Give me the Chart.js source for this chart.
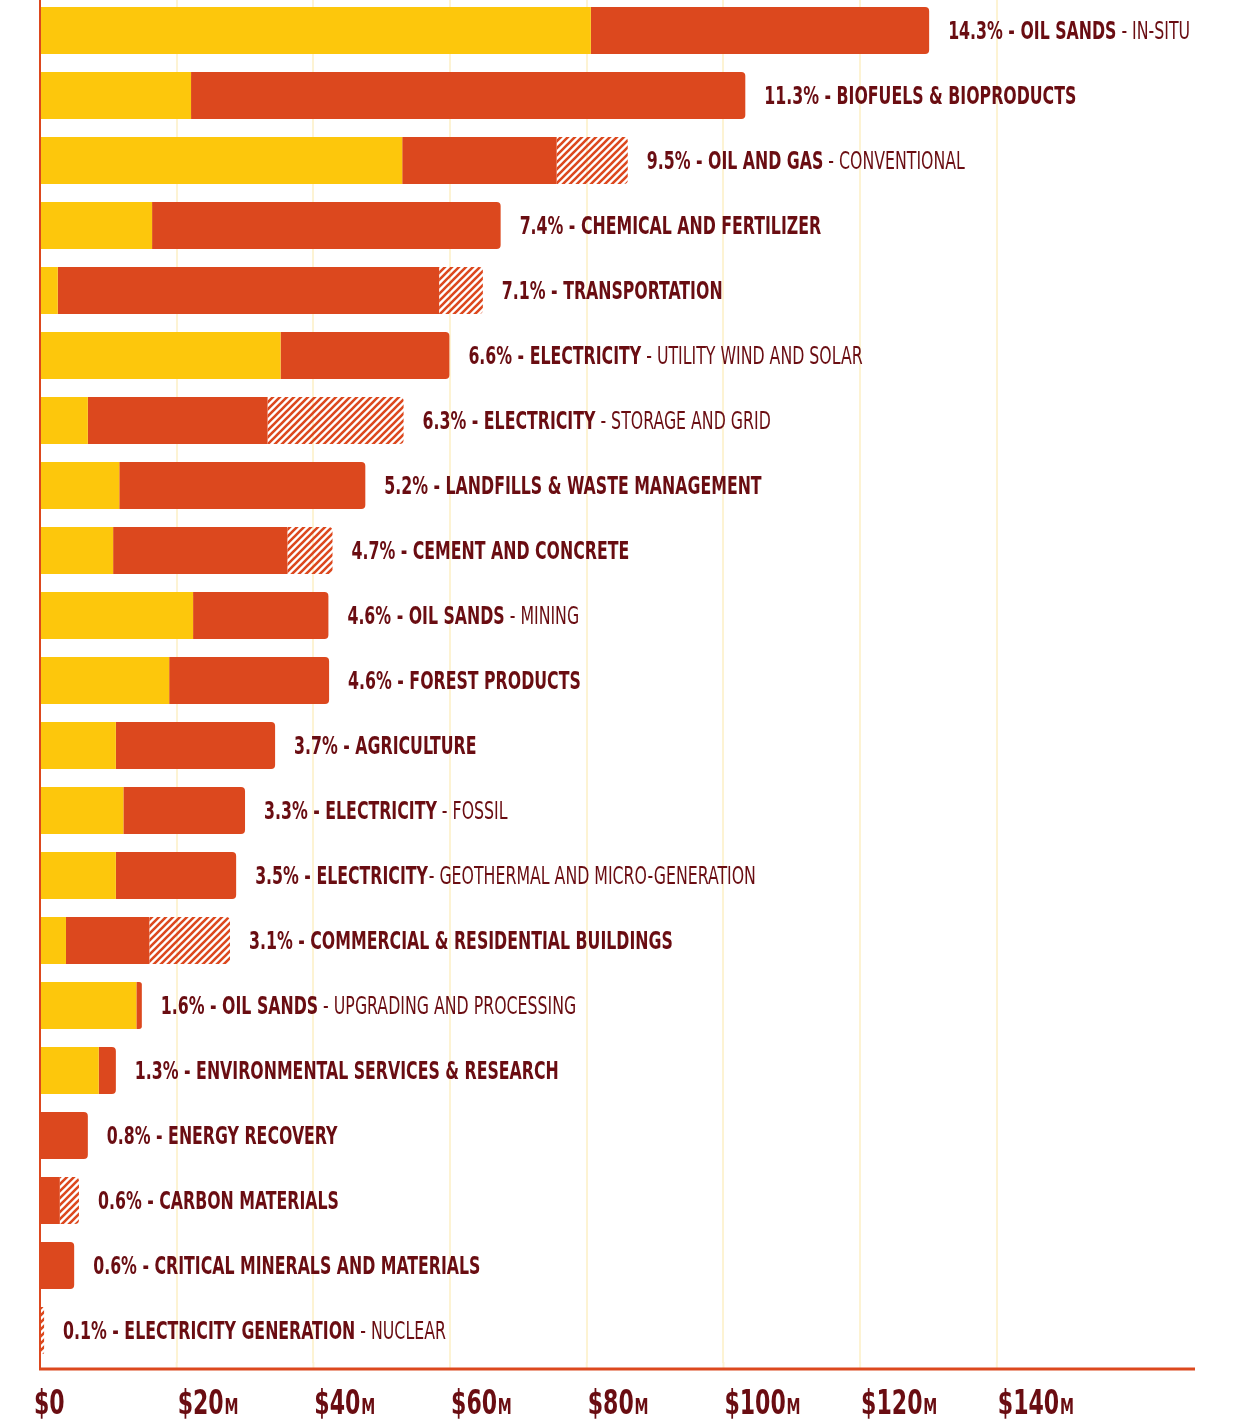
<!DOCTYPE html>
<html>
<head>
<meta charset="utf-8">
<script src="https://cdn.jsdelivr.net/npm/chart.js@4/dist/chart.umd.min.js"></script>
<style>
  html, body { margin: 0; padding: 0; background: #fff; }
  #wrap { width: 1242px; height: 1419px; position: relative; overflow: hidden; }
  #box { position: absolute; left: 0; top: -2px; width: 1242px; height: 1421px; }
</style>
</head>
<body>
<div id="wrap"><div id="box"><canvas id="chart"></canvas></div></div>
<script>
// sectors, top to bottom
const pcts = ['14.3%', '11.3%', '9.5%', '7.4%', '7.1%', '6.6%', '6.3%', '5.2%', '4.7%', '4.6%', '4.6%',
  '3.7%', '3.3%', '3.5%', '3.1%', '1.6%', '1.3%', '0.8%', '0.6%', '0.6%', '0.1%'];
const names = ['OIL SANDS', 'BIOFUELS & BIOPRODUCTS', 'OIL AND GAS', 'CHEMICAL AND FERTILIZER', 'TRANSPORTATION',
  'ELECTRICITY', 'ELECTRICITY', 'LANDFILLS & WASTE MANAGEMENT', 'CEMENT AND CONCRETE', 'OIL SANDS',
  'FOREST PRODUCTS', 'AGRICULTURE', 'ELECTRICITY', 'ELECTRICITY', 'COMMERCIAL & RESIDENTIAL BUILDINGS',
  'OIL SANDS', 'ENVIRONMENTAL SERVICES & RESEARCH', 'ENERGY RECOVERY', 'CARBON MATERIALS',
  'CRITICAL MINERALS AND MATERIALS', 'ELECTRICITY GENERATION'];
const subs = [' - IN-SITU', '', ' - CONVENTIONAL', '', '', ' - UTILITY WIND AND SOLAR', ' - STORAGE AND GRID',
  '', '', ' - MINING', '', '', ' - FOSSIL', '- GEOTHERMAL AND MICRO-GENERATION', '', ' - UPGRADING AND PROCESSING',
  '', '', '', '', ' - NUCLEAR'];

// $ millions per segment
const yellowVals = [80.6, 22.1, 53.0, 16.4, 2.6, 35.2, 7.0, 11.6, 10.7, 22.4, 18.9, 11.1, 12.2, 11.1, 3.8, 14.1, 8.6, 0, 0, 0, 0];
const redVals = [49.5, 81.1, 22.6, 51.0, 55.8, 24.7, 26.3, 36.0, 25.5, 19.8, 23.4, 23.3, 17.8, 17.6, 12.2, 0.8, 2.5, 7.0, 2.9, 5.0, 0];
const hatchVals = [0, 0, 10.4, 0, 6.4, 0, 19.9, 0, 6.6, 0, 0, 0, 0, 0, 11.8, 0, 0, 0, 2.8, 0, 0.6];

const tickValues = [0, 20, 40, 60, 80, 100, 120, 140];

const YELLOW = '#fdc70c';
const RED = '#dc481e';
const TEXT = '#6a0d12';
const GRID = '#fdf3d3';
const FONT = "'Liberation Sans Narrow', 'DejaVu Sans Condensed', 'Liberation Sans', sans-serif";
const AXIS_GAP = 6; // x axis line sits a little under the last bar row

function makeHatch() {
  const s = 7;
  const c = document.createElement('canvas');
  c.width = s; c.height = s;
  const g = c.getContext('2d');
  g.strokeStyle = RED;
  g.lineWidth = 2.6;
  g.beginPath();
  g.moveTo(0, s); g.lineTo(s, 0);
  g.moveTo(-1, 1); g.lineTo(1, -1);
  g.moveTo(s - 1, s + 1); g.lineTo(s + 1, s - 1);
  g.stroke();
  return g.createPattern(c, 'repeat');
}

const series = [yellowVals, redVals, hatchVals];
function lastSeg(i) {
  for (let d = series.length - 1; d >= 0; d--) if (series[d][i] > 0) return d;
  return -1;
}
function radius(ctx) {
  if (ctx.type !== 'data') return 0;
  return lastSeg(ctx.dataIndex) === ctx.datasetIndex ? { topRight: 4, bottomRight: 4, topLeft: 0, bottomLeft: 0 } : 0;
}

const labelPlugin = {
  id: 'rowLabels',
  beforeDatasetsDraw(chart) {
    // extend grid + axes down to the lowered x axis line
    const { ctx, chartArea, scales: { x } } = chart;
    const axisY = chartArea.bottom + AXIS_GAP;
    ctx.save();
    ctx.strokeStyle = GRID;
    ctx.lineWidth = 2;
    x.ticks.forEach(t => {
      if (t.value === 0) return;
      const px = x.getPixelForValue(t.value);
      ctx.beginPath(); ctx.moveTo(px, chartArea.bottom - 1); ctx.lineTo(px, axisY); ctx.stroke();
    });
    ctx.strokeStyle = RED;
    ctx.beginPath(); ctx.moveTo(chartArea.left, chartArea.bottom - 1); ctx.lineTo(chartArea.left, axisY); ctx.stroke();
    ctx.lineWidth = 3;
    ctx.beginPath(); ctx.moveTo(chartArea.left - 1, axisY); ctx.lineTo(chartArea.right, axisY); ctx.stroke();
    ctx.restore();
  },
  afterDatasetsDraw(chart) {
    const { ctx, scales: { x, y } } = chart;
    ctx.save();
    ctx.font = `bold 24px ${FONT}`;
    const sx = 312 / ctx.measureText('11.3% - BIOFUELS & BIOPRODUCTS').width;
    ctx.fillStyle = TEXT;
    ctx.textBaseline = 'alphabetic';
    names.forEach((name, i) => {
      const total = yellowVals[i] + redVals[i] + hatchVals[i];
      const px = x.getPixelForValue(total) + 19;
      const py = y.getPixelForValue(i) + 8.5;
      const bold = `${pcts[i]} - ${name}`;
      ctx.save();
      ctx.translate(px, py);
      ctx.scale(sx, 1);
      ctx.font = `bold 24px ${FONT}`;
      ctx.fillText(bold, 0, 0);
      const w = ctx.measureText(bold).width + (subs[i].startsWith(' ') ? 0 : 1);
      ctx.font = `24px ${FONT}`;
      ctx.fillText(subs[i], w, 0);
      ctx.restore();
    });
    ctx.restore();
  },
  afterDraw(chart) {
    const { ctx, chartArea, scales: { x } } = chart;
    ctx.save();
    ctx.fillStyle = TEXT;
    ctx.font = `bold 33px ${FONT}`;
    const big = ctx.measureText('$20').width;
    ctx.font = `bold 21px ${FONT}`;
    const sx = 60 / (big + ctx.measureText('M').width);
    const py = chartArea.bottom + AXIS_GAP + 45;
    x.ticks.forEach(t => {
      const px = x.getPixelForValue(t.value) + (t.value === 0 ? -6 : 1);
      ctx.save();
      ctx.translate(px, py);
      ctx.scale(sx, 1);
      ctx.font = `bold 33px ${FONT}`;
      const s = '$' + t.value;
      ctx.fillText(s, 0, 0);
      if (t.value !== 0) {
        const w = ctx.measureText(s).width + 1;
        ctx.font = `bold 21px ${FONT}`;
        ctx.fillText('M', w, 0);
      }
      ctx.restore();
    });
    ctx.restore();
  }
};

const hatch = makeHatch();

new Chart(document.getElementById('chart'), {
  type: 'bar',
  data: {
    labels: names,
    datasets: [
      { label: 'yellow', data: yellowVals, backgroundColor: YELLOW },
      { label: 'red', data: redVals, backgroundColor: RED },
      { label: 'hatch', data: hatchVals, backgroundColor: hatch },
    ],
  },
  options: {
    indexAxis: 'y',
    responsive: true,
    maintainAspectRatio: false,
    animation: false,
    events: [],
    layout: { padding: { left: 40, right: 47, top: 0, bottom: 56 } },
    datasets: {
      bar: {
        categoryPercentage: 1,
        barPercentage: 0.723,
        borderRadius: radius,
        borderSkipped: false,
        borderWidth: 0,
      },
    },
    plugins: {
      legend: { display: false },
      tooltip: { enabled: false },
    },
    scales: {
      x: {
        stacked: true,
        min: 0,
        max: 169,
        afterBuildTicks: axis => { axis.ticks = tickValues.map(v => ({ value: v })); },
        ticks: { display: false },
        grid: {
          drawTicks: false,
          lineWidth: 2,
          color: c => (c.tick && c.tick.value === 0 ? 'rgba(0,0,0,0)' : GRID),
        },
        border: { display: false },
      },
      y: {
        stacked: true,
        ticks: { display: false },
        grid: { display: false, drawTicks: false },
        border: { display: true, color: RED, width: 2 },
      },
    },
  },
  plugins: [labelPlugin],
});
</script>
</body>
</html>
